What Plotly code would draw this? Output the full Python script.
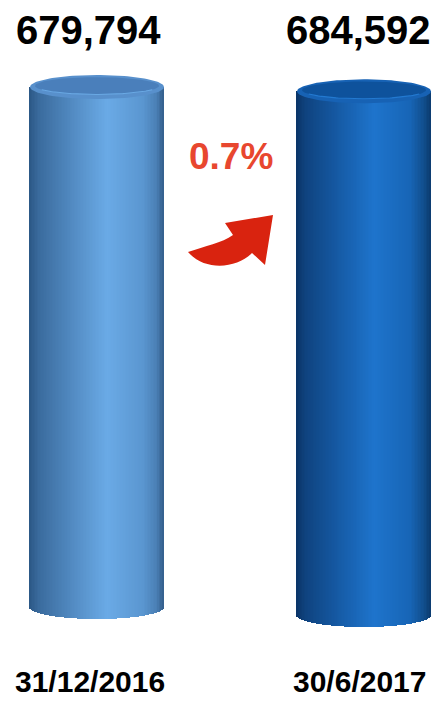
import numpy as np
import plotly.graph_objects as go

# ---- data ----
dates = ["31/12/2016", "30/6/2017"]
values = [679794, 684592]
change_label = "0.7%"

# ---- styling / layout ----
W, H = 439, 701
centers_px = [97, 364]
rx_px = 67
ry_px = 12
base_px = [607, 615]
body_px_first = 520
k = body_px_first / values[0]          # pixels per unit

body_stops = [
    [(0, "#2b5785"), (0.07, "#3a6b9d"), (0.3, "#5088bf"), (0.58, "#6aaae6"),
     (0.85, "#5a96d0"), (0.95, "#4a7fb5"), (1, "#345e8b")],
    [(0, "#0a3467"), (0.07, "#0f437f"), (0.3, "#1559a3"), (0.58, "#1e74cc"),
     (0.85, "#1765b6"), (0.95, "#114f8e"), (1, "#0b3b6e")],
]
cap_outer = ["#5890cc", "#1762b4"]
cap_inner = ["#4a7fbb", "#0e529c"]
cap_rim = ["#69a8e3", "#2379d0"]


def hex2rgb(h):
    h = h.lstrip("#")
    return np.array([int(h[i:i + 2], 16) for i in (0, 2, 4)], dtype=float)


def shade(stops, t):
    for (t0, c0), (t1, c1) in zip(stops[:-1], stops[1:]):
        if t0 <= t <= t1:
            f = (t - t0) / (t1 - t0) if t1 > t0 else 0
            c = hex2rgb(c0) * (1 - f) + hex2rgb(c1) * f
            return "rgb(%d,%d,%d)" % tuple(np.round(c))
    return stops[-1][1]


def py_to_y(p):
    return (base_px[0] - p) / k


ry_d = ry_px / k
fig = go.Figure()

N = 90
for i, (v, cx, bp) in enumerate(zip(values, centers_px, base_px)):
    base = py_to_y(bp)
    dw = 2 * rx_px / N
    ts = (np.arange(N) + 0.5) / N
    xs = cx - rx_px + ts * 2 * rx_px
    drop = ry_d * np.sqrt(np.clip(1 - (2 * ts - 1) ** 2, 0, 1))
    fig.add_trace(go.Bar(
        x=xs, y=v + drop, base=base - drop, width=[dw * 1.25] * N,
        marker=dict(color=[shade(body_stops[i], t) for t in ts], line=dict(width=0)),
        hoverinfo="skip", showlegend=False,
    ))
    top = base + v
    th = np.linspace(0, 2 * np.pi, 121)
    fig.add_trace(go.Scatter(
        x=cx + rx_px * np.cos(th), y=top + ry_d * np.sin(th), mode="lines",
        fill="toself", fillcolor=cap_outer[i], line=dict(width=0, color=cap_outer[i]),
        hoverinfo="skip", showlegend=False))
    fig.add_trace(go.Scatter(
        x=cx + (rx_px - 5) * np.cos(th), y=top + ry_d * 0.1 + ry_d * 0.72 * np.sin(th),
        mode="lines", fill="toself", fillcolor=cap_inner[i],
        line=dict(width=0, color=cap_inner[i]), hoverinfo="skip", showlegend=False))
    thf = np.linspace(np.pi * 1.15, np.pi * 1.85, 60)
    fig.add_trace(go.Scatter(
        x=cx + (rx_px - 5) * np.cos(thf), y=top + ry_d * 0.1 + ry_d * 0.72 * np.sin(thf),
        mode="lines", line=dict(width=1.1, color=cap_rim[i]),
        hoverinfo="skip", showlegend=False))

# arrow (decoration), pixel coords -> x data / paper y
def P(x, y):
    return f"{x},{1 - y / H:.5f}"

arrow_path = (
    f"M {P(188,252)} C {P(205,246)} {P(222,243)} {P(233,235)} "
    f"L {P(225,223)} L {P(273,215)} L {P(265,265)} L {P(252,253)} "
    f"C {P(238,268)} {P(205,272)} {P(188,252)} Z"
)
fig.add_shape(type="path", path=arrow_path, xref="x", yref="paper",
              fillcolor="#d9230f", line=dict(width=0), layer="above")

font_fam = "Liberation Sans, Arial, sans-serif"
label_x = [88, 358]
date_x = [90, 359]
for v, lx in zip(values, label_x):
    fig.add_annotation(x=lx, y=1 - 30 / H, xref="x", yref="paper", text=f"<b>{v:,}</b>",
                       showarrow=False, font=dict(family=font_fam, size=40, color="#000000"),
                       xanchor="center", yanchor="middle")
for d, dx in zip(dates, date_x):
    fig.add_annotation(x=dx, y=1 / H, xref="x", yref="paper", text=f"<b>{d}</b>",
                       showarrow=False, font=dict(family=font_fam, size=30, color="#000000"),
                       xanchor="center", yanchor="bottom")
fig.add_annotation(x=231, y=1 - 157 / H, xref="x", yref="paper", text=f"<b>{change_label}</b>",
                   showarrow=False, font=dict(family=font_fam, size=37, color="#e8472f"),
                   xanchor="center", yanchor="middle")

fig.update_layout(
    width=W, height=H, margin=dict(l=0, r=0, t=0, b=0),
    paper_bgcolor="white", plot_bgcolor="white", barmode="overlay", bargap=0,
    xaxis=dict(range=[0, W], visible=False, fixedrange=True),
    yaxis=dict(range=[py_to_y(H), py_to_y(0)], visible=False, fixedrange=True),
    showlegend=False,
)
fig.write_html("out.html")
